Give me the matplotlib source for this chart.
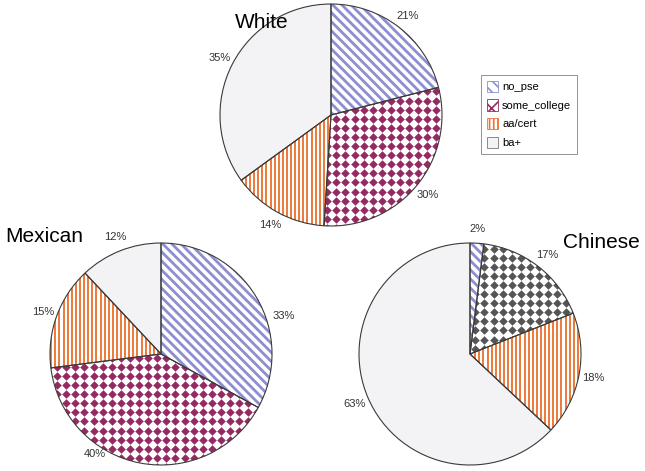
import numpy as np
import matplotlib
matplotlib.use("Agg")
import matplotlib.pyplot as plt
from matplotlib.patches import Wedge, Patch
from matplotlib.collections import LineCollection

plt.rcParams['font.family'] = ['Liberation Sans', 'DejaVu Sans']
plt.rcParams['hatch.linewidth'] = 1.2

categories = ['no_pse', 'some_college', 'aa/cert', 'ba+']
groups = ['White', 'Mexican', 'Chinese']
white_vals = [21, 30, 14, 35]
mexican_vals = [33, 40, 15, 12]
chinese_vals = [2, 17, 18, 63]

W, H = 645, 471
fig = plt.figure(figsize=(W / 100, H / 100), dpi=100)
fig.patch.set_facecolor('white')

BLUE = '#8d8dd2'
MAROON = '#952a62'
GRAY_D = '#555555'
ORANGE = '#ec7433'
LIGHT = '#f3f3f5'
EDGE = '#3a3a3a'


def pattern(ax, w, kind, color):
    if kind == 'diag':
        s = 0.082
        segs = [[(-1.2, c + 1.2), (1.2, c - 1.2)] for c in np.arange(-2.6, 2.6, s)]
        lc = LineCollection(segs, colors=color, linewidths=2.0, zorder=3)
        ax.add_collection(lc)
        lc.set_clip_path(w)
    elif kind == 'vert':
        s = 0.037
        segs = [[(x, -1.1), (x, 1.1)] for x in np.arange(-1.1, 1.1, s)]
        lc = LineCollection(segs, colors=color, linewidths=1.35, zorder=3)
        ax.add_collection(lc)
        lc.set_clip_path(w)
    elif kind == 'diam':
        s = 0.082
        g = np.arange(-1.1, 1.1, s)
        X, Y = np.meshgrid(g, g)
        sc = ax.scatter(X.ravel(), Y.ravel(), marker='D', s=19, c=color,
                        linewidths=0, zorder=3)
        sc.set_clip_path(w)


def draw_pie(vals, cx, cy, r, diam_color, label_adj=None):
    ax = fig.add_axes([(cx - r) / W, 1 - (cy + r) / H, 2 * r / W, 2 * r / H])
    wedges, texts = ax.pie(vals, startangle=90, counterclock=False,
                           colors=['white', 'white', 'white', LIGHT],
                           labels=[f'{v}%' for v in vals], labeldistance=1.13,
                           wedgeprops=dict(edgecolor='none', linewidth=0),
                           textprops=dict(fontsize=8, color='#333333'))
    kinds = [('diag', BLUE), ('diam', diam_color), ('vert', ORANGE), (None, None)]
    for w, (k, c) in zip(wedges, kinds):
        if k:
            pattern(ax, w, k, c)
        ax.add_patch(Wedge(w.center, w.r, w.theta1, w.theta2, fill=False,
                           edgecolor=EDGE, linewidth=0.8, zorder=5, clip_on=False))
    for i, t in enumerate(texts):
        t.set_ha('center')
        t.set_va('center')
        if label_adj and i in label_adj:
            t.set_position(label_adj[i])
    ax.set_xlim(-1, 1)
    ax.set_ylim(-1, 1)
    ax.set_axis_off()
    return ax


draw_pie(white_vals, 331, 115, 111, MAROON)
draw_pie(mexican_vals, 161, 354, 111, MAROON,
         label_adj={0: (1.11, 0.34), 1: (-0.6, -0.9)})
draw_pie(chinese_vals, 470, 354, 111, GRAY_D)

fig.text(262 / W, 1 - 22 / H, groups[0], fontsize=15, ha='center', va='center')
fig.text(5 / W, 1 - 237 / H, groups[1], fontsize=15, ha='left', va='center')
fig.text(640 / W, 1 - 242 / H, groups[2], fontsize=15, ha='right', va='center')

handles = [
    Patch(facecolor='white', edgecolor=BLUE, hatch='\\\\\\', linewidth=0.6),
    Patch(facecolor='white', edgecolor=MAROON, hatch='xx', linewidth=0.6),
    Patch(facecolor='white', edgecolor=ORANGE, hatch='||||', linewidth=0.6),
    Patch(facecolor=LIGHT, edgecolor='#777777', linewidth=0.6),
]
leg = fig.legend(handles, categories, loc='upper left',
                 bbox_to_anchor=(481 / W, 1 - 75 / H), borderaxespad=0,
                 frameon=True, fancybox=False,
                 edgecolor='#777777', fontsize=8, handlelength=1.0, handleheight=1.2,
                 borderpad=0.5, labelspacing=0.65, handletextpad=0.4)
leg.get_frame().set_linewidth(0.7)

fig.savefig('out.png', dpi=100, facecolor='white')
